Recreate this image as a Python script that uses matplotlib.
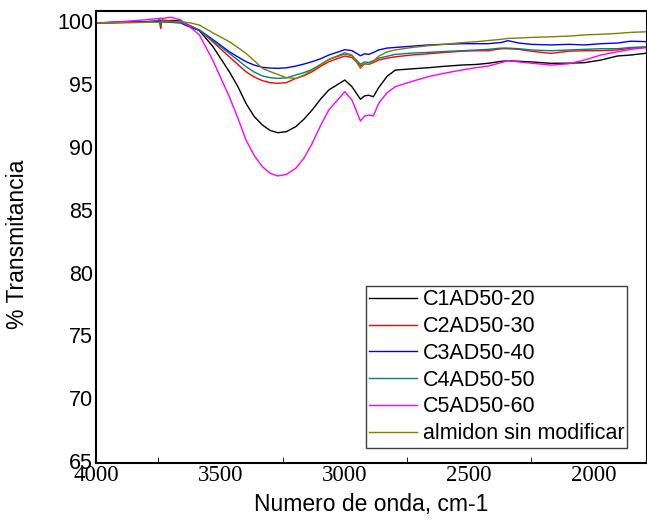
import matplotlib
matplotlib.use("Agg")
import matplotlib.pyplot as plt
from matplotlib.ticker import MultipleLocator

# Wavenumber grid (cm-1)
wavenumber = [4000, 3900, 3800, 3750, 3745, 3740, 3735, 3700, 3660, 3620, 3584, 3531,
              3464, 3430, 3397, 3364, 3331, 3300, 3270, 3235, 3197, 3164, 3131, 3097,
              3064, 3000, 2971, 2937,
              2920, 2904, 2885, 2864, 2830, 2797, 2730, 2664, 2600, 2531, 2470,
              2424, 2370, 2344, 2300, 2250, 2172, 2100, 2036, 1970, 1904, 1850, 1785]

c1ad50_20 = [99.85, 99.9, 99.95, 100.0, 99.9, 100.05, 99.95, 100.05, 100.0, 99.6, 99.23, 98.0,
             95.97, 94.8, 93.45, 92.4, 91.73, 91.3, 91.12, 91.2, 91.6, 92.2, 92.93, 93.8,
             94.52, 95.31, 94.78, 93.78,
             94.05, 94.1, 93.98, 94.7, 95.6, 96.1, 96.2, 96.29, 96.4, 96.5, 96.55,
             96.64, 96.8, 96.85, 96.8, 96.75, 96.64, 96.65, 96.69, 96.9, 97.22, 97.3, 97.45]

c2ad50_30 = [99.85, 99.9, 99.95, 100.0, 100.0, 99.4, 100.1, 100.0, 99.9, 99.6, 99.28, 98.36,
             97.16, 96.55, 95.97, 95.55, 95.26, 95.1, 95.05, 95.1, 95.44, 95.65, 95.97, 96.4,
             96.77, 97.22, 97.1, 96.42,
             96.6, 96.55, 96.7, 96.9, 97.05, 97.16, 97.3, 97.4, 97.5, 97.6, 97.64,
             97.64, 97.8, 97.8, 97.75, 97.6, 97.43, 97.6, 97.64, 97.65, 97.7, 97.85, 97.9]

c3ad50_40 = [99.85, 99.9, 99.95, 99.95, 100.1, 99.8, 99.95, 99.9, 99.85, 99.5, 99.28, 98.54,
             97.56, 97.15, 96.77, 96.5, 96.32, 96.26, 96.24, 96.28, 96.42, 96.58, 96.77, 97.0,
             97.3, 97.72, 97.65, 97.24,
             97.4, 97.35, 97.5, 97.7, 97.85, 97.9, 98.0, 98.1, 98.15, 98.2, 98.2,
             98.2, 98.3, 98.44, 98.25, 98.15, 98.1, 98.15, 98.1, 98.2, 98.25, 98.4, 98.36]

c4ad50_50 = [99.85, 99.9, 99.9, 100.05, 100.2, 99.7, 100.0, 99.95, 99.9, 99.6, 99.28, 98.45,
             97.43, 96.9, 96.37, 95.95, 95.63, 95.5, 95.44, 95.48, 95.71, 95.9, 96.16, 96.55,
             96.95, 97.38, 97.25, 96.56,
             96.75, 96.7, 96.85, 97.05, 97.2, 97.35, 97.45, 97.51, 97.58, 97.64, 97.7,
             97.75, 97.85, 97.85, 97.8, 97.7, 97.64, 97.7, 97.75, 97.8, 97.8, 97.9, 97.96]

c5ad50_60 = [99.85, 99.95, 100.1, 100.2, 100.2, 100.25, 100.2, 100.3, 100.1, 99.5, 98.89, 96.9,
             93.98, 92.3, 90.54, 89.3, 88.42, 87.9, 87.68, 87.8, 88.29, 89.1, 90.27, 91.7,
             92.93, 94.38, 93.72, 92.05,
             92.45, 92.53, 92.45, 93.45, 94.3, 94.78, 95.2, 95.58, 95.85, 96.1, 96.3,
             96.42, 96.7, 96.85, 96.75, 96.65, 96.5, 96.6, 96.9, 97.3, 97.56, 97.75, 97.9]

almidon = [99.85, 99.85, 99.9, 99.9, 99.9, 99.9, 99.9, 99.95, 99.95, 99.85, 99.68, 99.07,
           98.36, 97.9, 97.43, 96.85, 96.24, 95.98, 95.76, 95.5, 95.44, 95.7, 96.1, 96.5,
           96.95, 97.48, 97.3, 96.24,
           96.6, 96.55, 96.8, 97.2, 97.55, 97.7, 97.9, 98.04, 98.15, 98.28, 98.36,
           98.45, 98.55, 98.62, 98.65, 98.7, 98.75, 98.8, 98.9, 98.95, 99.02, 99.1, 99.15]

series = [
    ("C1AD50-20", c1ad50_20, "#000000"),
    ("C2AD50-30", c2ad50_30, "#ff0000"),
    ("C3AD50-40", c3ad50_40, "#0000ff"),
    ("C4AD50-50", c4ad50_50, "#008080"),
    ("C5AD50-60", c5ad50_60, "#ff00ff"),
    ("almidon sin modificar", almidon, "#808000"),
]

sans = ["Liberation Sans", "DejaVu Sans"]
serif = ["Liberation Serif", "DejaVu Serif"]

fig = plt.figure(figsize=(6.47, 5.2), dpi=100)
ax = fig.add_axes([96 / 647, 1 - 463 / 520, 1 - 96 / 647, (463 - 11) / 520])

for name, vals, col in series:
    ax.plot(wavenumber, vals, color=col, lw=1.0, label=name)

ax.set_xlim(4000, 1785)
ax.set_ylim(64.85, 100.8)
ax.xaxis.set_major_locator(MultipleLocator(500))
ax.xaxis.set_minor_locator(MultipleLocator(250))
ax.yaxis.set_major_locator(MultipleLocator(5))
ax.tick_params(axis="both", which="both", direction="in")
ax.tick_params(axis="x", which="major", length=0, pad=1.5)
ax.tick_params(axis="x", which="minor", length=4)
ax.tick_params(axis="y", which="major", length=0, pad=2)

for lab in ax.get_xticklabels():
    lab.set_fontfamily(serif)
    lab.set_fontsize(16.5)
for lab in ax.get_yticklabels():
    lab.set_fontfamily(sans)
    lab.set_fontsize(15.5)

for s in ax.spines.values():
    s.set_linewidth(1.5)

ax.set_xlabel("Numero de onda, cm-1", fontsize=16.5, family=sans)
ax.set_ylabel("% Transmitancia", fontsize=16.5, family=sans)
ax.xaxis.set_label_coords(0.5, -(504 - 463) / 452, transform=ax.transAxes)
ax.xaxis.label.set_va("center")
ax.yaxis.set_label_coords(-(96 - 17.5) / 551, (463 - 244) / 452)
ax.yaxis.label.set_va("center")

leg = ax.legend(loc="upper left", bbox_to_anchor=(366 / 647, 1 - 286 / 520),
                bbox_transform=fig.transFigure, borderaxespad=0,
                prop={"family": sans, "size": 15.5}, fancybox=False,
                edgecolor="#404040", framealpha=1, handlelength=2.2,
                handletextpad=0.28, labelspacing=0.27, borderpad=0.15)
leg.get_frame().set_linewidth(1.0)

fig.savefig("out.png", dpi=100)
